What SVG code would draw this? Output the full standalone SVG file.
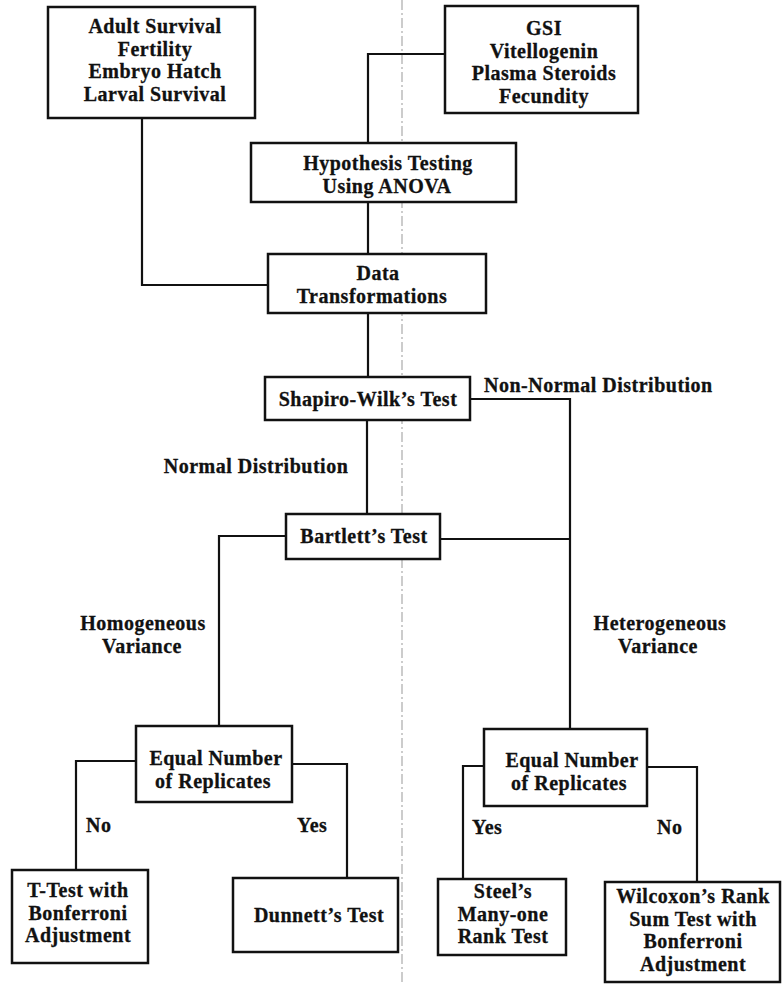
<svg xmlns="http://www.w3.org/2000/svg" width="782" height="984" viewBox="0 0 782 984">
<style>
  .box { fill: #fff; stroke: #111; stroke-width: 2.5; }
  .ln { fill: none; stroke: #111; stroke-width: 2.2; }
  text { font-family: "Liberation Serif", "Times New Roman", serif; font-weight: bold; font-size: 20px; letter-spacing: 0.5px; fill: #111; stroke: #111; stroke-width: 0.3; }
  .c { text-anchor: middle; }
  .fold { stroke: #999; stroke-width: 1; stroke-dasharray: 10 3 2 3; fill: none; }
</style>
<rect width="782" height="984" fill="#fff"/>
<line class="fold" x1="402" y1="0" x2="402" y2="984"/>
<g id="connectors">
  <polyline class="ln" points="142,118 142,285 268,285"/>
  <polyline class="ln" points="445,54 368,54 368,143"/>
  <line class="ln" x1="368" y1="202" x2="368" y2="254"/>
  <line class="ln" x1="368" y1="313" x2="368" y2="377"/>
  <polyline class="ln" points="470,399 570,399 570,729"/>
  <line class="ln" x1="367" y1="420" x2="367" y2="514"/>
  <line class="ln" x1="440" y1="539" x2="570" y2="539"/>
  <polyline class="ln" points="286,536 219,536 219,726"/>
  <polyline class="ln" points="136,761 76,761 76,870"/>
  <polyline class="ln" points="292,764 347,764 347,878"/>
  <polyline class="ln" points="484,766 463,766 463,879"/>
  <polyline class="ln" points="647,767 697,767 697,882"/>
</g>
<g id="labels">
  <text x="484" y="392">Non-Normal Distribution</text>
  <text class="c" x="256" y="473">Normal Distribution</text>
  <text class="c" x="143" y="630">Homogeneous</text>
  <text class="c" x="142" y="652.5">Variance</text>
  <text class="c" x="660" y="630">Heterogeneous</text>
  <text class="c" x="658" y="652.5">Variance</text>
  <text x="86" y="832">No</text>
  <text x="297" y="832">Yes</text>
  <text x="472" y="834">Yes</text>
  <text x="657" y="834">No</text>
</g>
<g id="adult">
  <rect class="box" x="48" y="7" width="207" height="111"/>
  <text class="c" x="155" y="33">Adult Survival</text>
  <text class="c" x="155" y="55.5">Fertility</text>
  <text class="c" x="155" y="78">Embryo Hatch</text>
  <text class="c" x="155" y="100.5">Larval Survival</text>
</g>
<g id="gsi">
  <rect class="box" x="445" y="6" width="193" height="107"/>
  <text class="c" x="544" y="35">GSI</text>
  <text class="c" x="544" y="57.5">Vitellogenin</text>
  <text class="c" x="544" y="80">Plasma Steroids</text>
  <text class="c" x="544" y="102.5">Fecundity</text>
</g>
<g id="hypothesis">
  <rect class="box" x="251" y="143" width="265" height="59"/>
  <text class="c" x="388" y="170">Hypothesis Testing</text>
  <text class="c" x="387" y="192.5">Using ANOVA</text>
</g>
<g id="transform">
  <rect class="box" x="268" y="254" width="218" height="59"/>
  <text class="c" x="378" y="280">Data</text>
  <text class="c" x="372" y="302.5">Transformations</text>
</g>
<g id="shapiro">
  <rect class="box" x="265" y="377" width="205" height="43"/>
  <text class="c" x="368" y="406">Shapiro-Wilk’s Test</text>
</g>
<g id="bartlett">
  <rect class="box" x="286" y="514" width="154" height="45"/>
  <text class="c" x="364" y="543">Bartlett’s Test</text>
</g>
<g id="equal-left">
  <rect class="box" x="136" y="726" width="156" height="76"/>
  <text class="c" x="216" y="765">Equal Number</text>
  <text class="c" x="213" y="787.5">of Replicates</text>
</g>
<g id="equal-right">
  <rect class="box" x="484" y="729" width="163" height="77"/>
  <text class="c" x="572" y="767">Equal Number</text>
  <text class="c" x="569" y="789.5">of Replicates</text>
</g>
<g id="ttest">
  <rect class="box" x="12" y="870" width="136" height="93"/>
  <text class="c" x="78" y="897">T-Test with</text>
  <text class="c" x="78" y="919.5">Bonferroni</text>
  <text class="c" x="78" y="942">Adjustment</text>
</g>
<g id="dunnett">
  <rect class="box" x="233" y="878" width="165" height="74"/>
  <text class="c" x="319" y="922">Dunnett’s Test</text>
</g>
<g id="steel">
  <rect class="box" x="438" y="879" width="128" height="76"/>
  <text class="c" x="503" y="898">Steel’s</text>
  <text class="c" x="503" y="920.5">Many-one</text>
  <text class="c" x="503" y="943">Rank Test</text>
</g>
<g id="wilcoxon">
  <rect class="box" x="605" y="882" width="175" height="100"/>
  <text class="c" x="693" y="903">Wilcoxon’s Rank</text>
  <text class="c" x="693" y="925.5">Sum Test with</text>
  <text class="c" x="693" y="948">Bonferroni</text>
  <text class="c" x="693" y="970.5">Adjustment</text>
</g>
</svg>
